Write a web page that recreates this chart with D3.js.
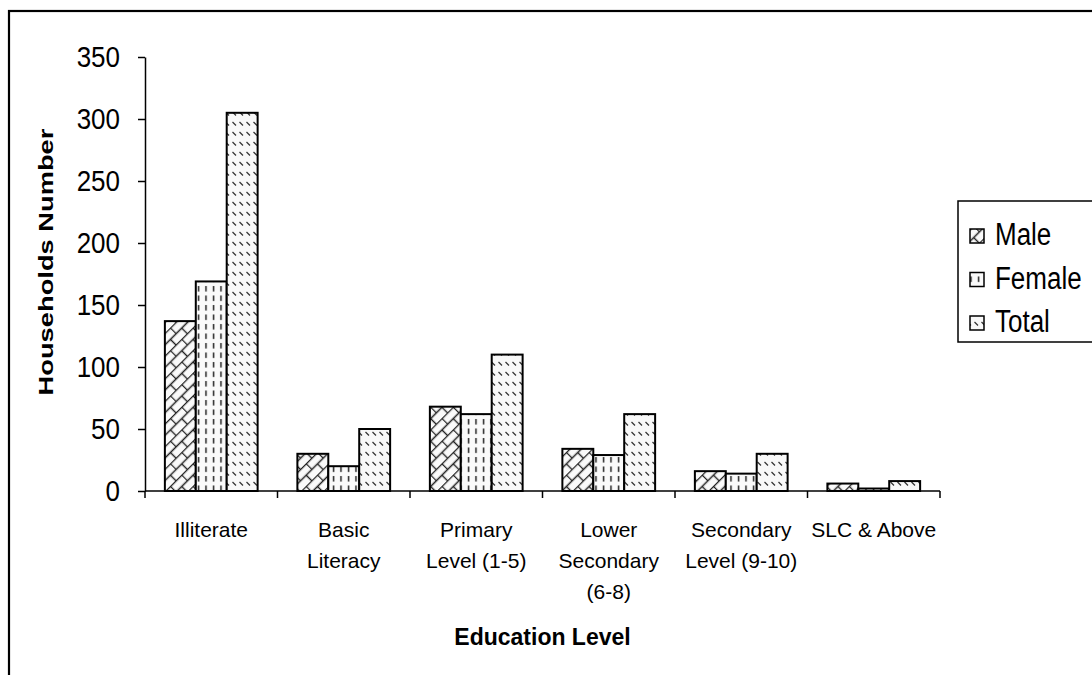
<!DOCTYPE html>
<html>
<head>
<meta charset="utf-8">
<script src="https://cdn.jsdelivr.net/npm/d3@7"></script>
<style>
  html, body { margin: 0; padding: 0; background: #fff; }
  svg { display: block; font-family: "Liberation Sans", Arial, sans-serif; }
</style>
</head>
<body>
<svg id="chart" width="1092" height="675"></svg>
<script>
// Households by education level of head, split by sex
const categories = ["Illiterate", "Basic Literacy", "Primary Level (1-5)", "Lower Secondary (6-8)", "Secondary Level (9-10)", "SLC & Above"];
const categoryLines = [["Illiterate"], ["Basic", "Literacy"], ["Primary", "Level (1-5)"], ["Lower", "Secondary", "(6-8)"], ["Secondary", "Level (9-10)"], ["SLC & Above"]];
const seriesNames = ["Male", "Female", "Total"];
const male = [137, 30, 68, 34, 16, 6];
const female = [169, 20, 62, 29, 14, 2];
const total = [305, 50, 110, 62, 30, 8];
const yTicks = [0, 50, 100, 150, 200, 250, 300, 350];

const seriesValues = [male, female, total];

const svg = d3.select("#chart");
const plot = { left: 145, right: 940, top: 57, bottom: 491 };

// Outer chart frame
svg.append("rect")
  .attr("x", 9).attr("y", 11).attr("width", 1200).attr("height", 800)
  .attr("fill", "none").attr("stroke", "#000").attr("stroke-width", 2.2);

// Fill patterns
const defs = svg.append("defs");

// Male: diagonal brick
const pm = defs.append("pattern").attr("id", "pat-male")
  .attr("patternUnits", "userSpaceOnUse").attr("width", 16).attr("height", 16)
  .attr("patternTransform", "rotate(-45)");
pm.append("rect").attr("width", 16).attr("height", 16).attr("fill", "#fafafa");
pm.append("path")
  .attr("d", "M0,0.5H16M0,8.5H16M0.5,0V8M8.5,8V16")
  .attr("stroke", "#222").attr("stroke-width", 1.4).attr("fill", "none");

// Female: dashed vertical
const pf = defs.append("pattern").attr("id", "pat-female")
  .attr("patternUnits", "userSpaceOnUse").attr("width", 7.5).attr("height", 9.5);
pf.append("rect").attr("width", 7.5).attr("height", 9.5).attr("fill", "#fafafa");
pf.append("path")
  .attr("d", "M3.5,1V6.5")
  .attr("stroke", "#222").attr("stroke-width", 1.5).attr("fill", "none");

// Total: short downward-diagonal dashes
const pt = defs.append("pattern").attr("id", "pat-total")
  .attr("patternUnits", "userSpaceOnUse").attr("width", 7).attr("height", 10);
pt.append("rect").attr("width", 7).attr("height", 10).attr("fill", "#f8f8f8");
pt.append("path")
  .attr("d", "M1.5,2L5,5.5")
  .attr("stroke", "#333").attr("stroke-width", 1.3).attr("fill", "none");

const patternIds = ["pat-male", "pat-female", "pat-total"];

// Scales
const x0 = d3.scaleBand().domain(categories).range([plot.left, plot.right]).paddingInner(0.3).paddingOuter(0.15);
const x1 = d3.scaleBand().domain(seriesNames).range([0, x0.bandwidth()]);
const y = d3.scaleLinear().domain([0, 350]).range([plot.bottom, plot.top]);
const xCat = d3.scaleBand().domain(categories).range([plot.left, plot.right]);

// Bars
seriesNames.forEach((name, si) => {
  svg.append("g").selectAll("rect")
    .data(seriesValues[si])
    .join("rect")
    .attr("x", (d, i) => x0(categories[i]) + x1(name))
    .attr("y", d => y(d))
    .attr("width", x1.bandwidth())
    .attr("height", d => y(0) - y(d))
    .attr("fill", `url(#${patternIds[si]})`)
    .attr("stroke", "#000").attr("stroke-width", 2);
});

// Y axis
const yAxis = svg.append("g")
  .attr("transform", `translate(${plot.left},0)`)
  .call(d3.axisLeft(y).tickValues(yTicks).tickSize(7).tickPadding(18).tickSizeOuter(0));
yAxis.select(".domain").attr("stroke", "#000").attr("stroke-width", 1.5);
yAxis.selectAll(".tick line").attr("stroke", "#000").attr("stroke-width", 1.5);
yAxis.selectAll(".tick text")
  .attr("fill", "#000").attr("font-size", 26).attr("font-family", "Liberation Sans, Arial, sans-serif")
  .attr("transform", "scale(1,1.12)");

// X axis with ticks at category boundaries
const xAxis = svg.append("g").attr("transform", `translate(0,${plot.bottom})`);
xAxis.append("line")
  .attr("x1", plot.left).attr("x2", plot.right)
  .attr("stroke", "#000").attr("stroke-width", 1.5);
xAxis.selectAll("line.tk")
  .data(categories.concat(["end"]))
  .join("line").attr("class", "tk")
  .attr("x1", (d, i) => i < categories.length ? xCat(d) : plot.right)
  .attr("x2", (d, i) => i < categories.length ? xCat(d) : plot.right)
  .attr("y1", 0).attr("y2", 7)
  .attr("stroke", "#000").attr("stroke-width", 1.5);

const labels = xAxis.selectAll("text.cat")
  .data(categories)
  .join("text").attr("class", "cat")
  .attr("x", d => xCat(d) + xCat.bandwidth() / 2)
  .attr("y", 46)
  .attr("text-anchor", "middle")
  .attr("font-size", 21)
  .attr("fill", "#000");
labels.each(function(d, i) {
  const t = d3.select(this);
  categoryLines[i].forEach((line, li) => {
    t.append("tspan").attr("x", xCat(d) + xCat.bandwidth() / 2).attr("dy", li === 0 ? 0 : 31).text(line);
  });
});

// Axis titles
svg.append("text")
  .attr("x", (plot.left + plot.right) / 2).attr("y", 645)
  .attr("text-anchor", "middle").attr("font-size", 23).attr("font-weight", "bold")
  .text("Education Level");

svg.append("text")
  .attr("transform", "translate(53,262) rotate(-90) scale(1.3,1)")
  .attr("text-anchor", "middle").attr("font-size", 21).attr("font-weight", "bold")
  .text("Households Number");

// Legend
const legend = svg.append("g");
legend.append("rect")
  .attr("x", 958).attr("y", 201).attr("width", 200).attr("height", 141)
  .attr("fill", "#fff").attr("stroke", "#000").attr("stroke-width", 1.5);
const legendY = d3.scalePoint().domain(seriesNames).range([236, 323]);
seriesNames.forEach((name, si) => {
  legend.append("rect")
    .attr("x", 970).attr("y", legendY(name) - 7).attr("width", 14).attr("height", 14)
    .attr("fill", `url(#${patternIds[si]})`).attr("stroke", "#000").attr("stroke-width", 1.5);
  legend.append("text")
    .attr("transform", `translate(995,${legendY(name) + 9}) scale(1,1.2)`)
    .attr("font-size", 26).attr("fill", "#000")
    .text(name);
});
</script>
</body>
</html>
